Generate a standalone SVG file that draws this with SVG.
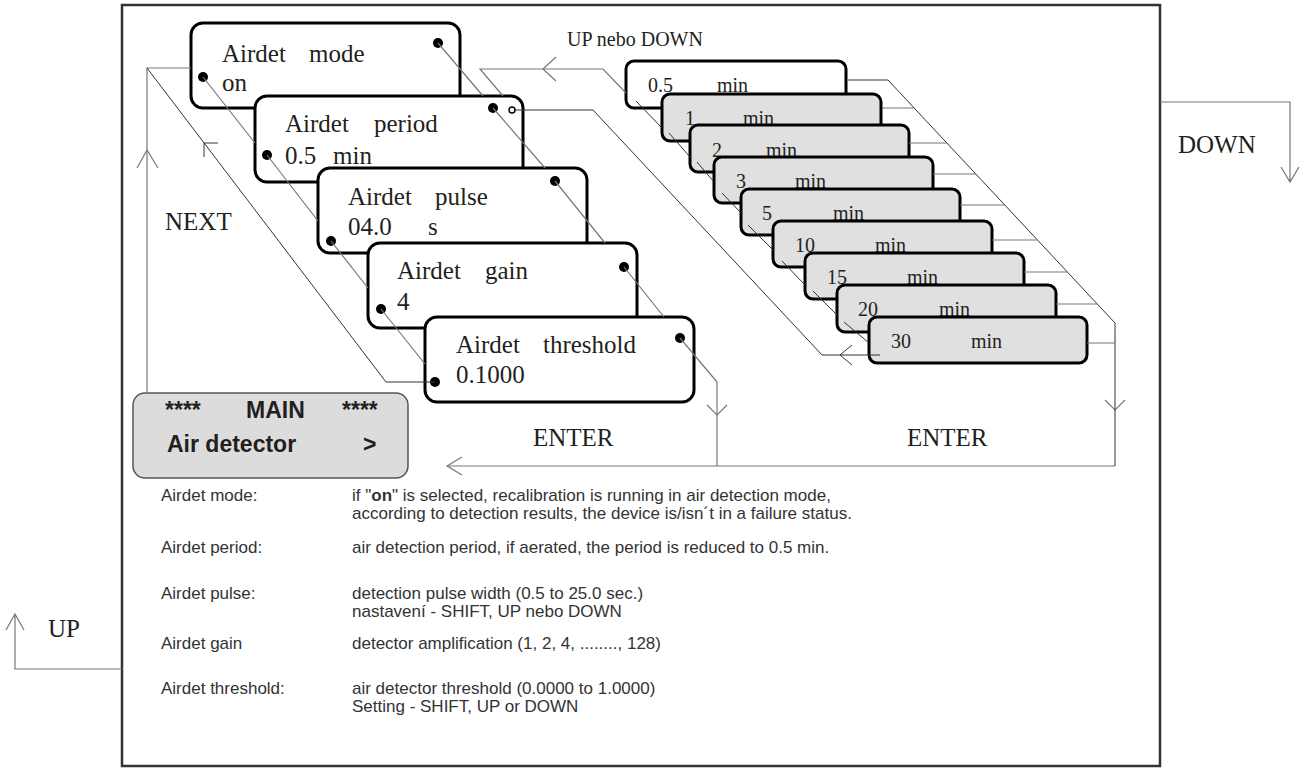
<svg xmlns="http://www.w3.org/2000/svg" width="1303" height="769" viewBox="0 0 1303 769">
<style>
.nd{fill:#fff;stroke:#000;stroke-width:3}
.st{fill:#e0e0e0;stroke:#000;stroke-width:3}
.st0{fill:#fff;stroke:#000;stroke-width:3}
.mb{fill:#dcdcdc;stroke:#555;stroke-width:1.5}
.tn{font-family:"Liberation Serif","Times New Roman",serif;font-size:25px;fill:#231f20}
.ts{font-family:"Liberation Serif","Times New Roman",serif;font-size:20px;fill:#231f20}
.tm{font-family:"Liberation Sans",Arial,sans-serif;font-size:23px;font-weight:bold;fill:#231f20}
.tb{font-family:"Liberation Sans",Arial,sans-serif;font-size:17px;fill:#333}
.dot{fill:#000}
.oc{fill:#fff;stroke:#000;stroke-width:1.5}
.ln{fill:none;stroke:#333;stroke-width:1}
.lg{fill:none;stroke:#777;stroke-width:1.2}
</style>
<rect x="122" y="5" width="1038" height="761" fill="none" stroke="#333" stroke-width="2.5"/>

<g id="stack">
<g id="s05"><rect class="st0" x="626" y="61" width="220" height="47" rx="8"/><text class="ts" x="648" y="92">0.5</text><text class="ts" x="717" y="92">min</text></g>
<g id="s1"><rect class="st" x="662" y="94" width="219" height="47" rx="8"/><text class="ts" x="685" y="125">1</text><text class="ts" x="743" y="125">min</text></g>
<g id="s2"><rect class="st" x="690" y="125" width="219" height="47" rx="8"/><text class="ts" x="712" y="157">2</text><text class="ts" x="766" y="157">min</text></g>
<g id="s3"><rect class="st" x="714" y="157" width="219" height="46" rx="8"/><text class="ts" x="736" y="188">3</text><text class="ts" x="795" y="188">min</text></g>
<g id="s5"><rect class="st" x="741" y="189" width="219" height="46" rx="8"/><text class="ts" x="762" y="220">5</text><text class="ts" x="833" y="220">min</text></g>
<g id="s10"><rect class="st" x="773" y="221" width="219" height="46" rx="8"/><text class="ts" x="795" y="252">10</text><text class="ts" x="875" y="252">min</text></g>
<g id="s15"><rect class="st" x="805" y="253" width="219" height="46" rx="8"/><text class="ts" x="827" y="284">15</text><text class="ts" x="907" y="284">min</text></g>
<g id="s20"><rect class="st" x="837" y="285" width="219" height="47" rx="8"/><text class="ts" x="858" y="316">20</text><text class="ts" x="939" y="316">min</text></g>
<g id="s30"><rect class="st" x="869" y="317" width="218" height="46" rx="8"/><text class="ts" x="891" y="348">30</text><text class="ts" x="971" y="348">min</text></g>
</g>

<g id="n1"><rect class="nd" x="191" y="23" width="269" height="85" rx="12"/><text class="tn" x="222" y="62">Airdet</text><text class="tn" x="309" y="62">mode</text><text class="tn" x="222" y="91">on</text><circle class="dot" cx="203" cy="77" r="5"/><circle class="dot" cx="438" cy="43" r="5"/></g>
<g id="n2"><rect class="nd" x="255" y="96" width="268" height="86" rx="12"/><text class="tn" x="285" y="132">Airdet</text><text class="tn" x="374" y="132">period</text><text class="tn" x="285" y="164">0.5</text><text class="tn" x="333" y="164">min</text><circle class="dot" cx="267" cy="155" r="5"/><circle class="dot" cx="493" cy="108" r="5"/><circle class="oc" cx="512" cy="110" r="3"/></g>
<g id="n3"><rect class="nd" x="318" y="168" width="269" height="85" rx="12"/><text class="tn" x="348" y="205">Airdet</text><text class="tn" x="435" y="205">pulse</text><text class="tn" x="348" y="235">04.0</text><text class="tn" x="428" y="235">s</text><circle class="dot" cx="331" cy="241" r="5"/><circle class="dot" cx="555" cy="181" r="5"/></g>
<g id="n4"><rect class="nd" x="368" y="243" width="269" height="85" rx="12"/><text class="tn" x="397" y="279">Airdet</text><text class="tn" x="485" y="279">gain</text><text class="tn" x="397" y="310">4</text><circle class="dot" cx="381" cy="309" r="5"/><circle class="dot" cx="624" cy="267" r="5"/></g>
<g id="n5"><rect class="nd" x="425" y="317" width="269" height="85" rx="12"/><text class="tn" x="456" y="353">Airdet</text><text class="tn" x="543" y="353">threshold</text><text class="tn" x="456" y="383">0.1000</text><circle class="dot" cx="435" cy="382" r="5"/><circle class="dot" cx="680" cy="338" r="5"/></g>

<g id="main"><rect class="mb" x="133" y="393" width="275" height="85" rx="12"/><text class="tm" x="165" y="418">****</text><text class="tm" x="246" y="418">MAIN</text><text class="tm" x="342" y="418">****</text><text class="tm" x="167" y="452">Air detector</text><text class="tm" x="363" y="452">&gt;</text></g>

<g id="connectors">
<path class="lg" d="M147,393 V68 H191"/>
<path class="lg" d="M137,168 L147,150 L158,168"/>
<path class="ln" d="M435,382 H386 L147,68"/>
<path class="ln" d="M218,143 H204 V157"/>
<path class="lg" d="M203,77 L255,143 M267,155 L318,221 M331,241 L368,288 M381,309 L425,364"/>
<path class="lg" d="M438,43 L483,96 M493,108 L545,168 M555,181 L605,243 M624,267 L664,317 M680,338 L717,382"/>
<path class="lg" d="M717,382 V466 M1115,466 H447"/>
<path class="lg" d="M707,405 L717,415 L727,405 M1105,400 L1115,410 L1125,400 M462,457 L447,466 L462,475"/>
<path class="lg" d="M503,96 L480,69 H603 L626,93"/>
<path class="lg" d="M556,57 L543,69 L556,81"/>
<path class="ln" d="M515,110 H593 L822,355 H880"/>
<path class="ln" d="M852,345 L840,355 L852,365"/>
<path class="ln" d="M636,101 L662,128 M669,133 L690,157 M697,162 L714,182 M722,193 L741,213 M748,225 L773,250 M782,261 L805,285 M813,291 L837,315 M844,322 L869,343"/>
<path class="ln" d="M846,80 H888 L1115,323 V466"/>
<path class="lg" d="M882,108 H914 M909,143 H947 M933,174 H976 M960,205 H1005 M992,240 H1037 M1024,272 H1067 M1056,304 H1097 M1087,343 H1115"/>
<path class="lg" d="M1160,102 H1290 V182 M1281,167 L1290,182 L1299,167"/>
<path class="lg" d="M122,669 H15 V614 M6,630 L15,614 L24,630"/>
</g>

<g id="labels">
<text class="ts" x="567" y="46">UP nebo DOWN</text>
<text class="tn" x="165" y="230">NEXT</text>
<text class="tn" x="533" y="446">ENTER</text>
<text class="tn" x="907" y="446">ENTER</text>
<text class="tn" x="1178" y="153">DOWN</text>
<text class="tn" x="48" y="637">UP</text>
</g>

<g id="notes" class="tb">
<text x="161" y="501">Airdet mode:</text>
<text x="352" y="501">if "<tspan font-weight="bold">on</tspan>" is selected, recalibration is running in air detection mode,</text>
<text x="352" y="519">according to detection results, the device is/isn´t in a failure status.</text>
<text x="161" y="553">Airdet period:</text>
<text x="352" y="553">air detection period, if aerated, the period is reduced to 0.5 min.</text>
<text x="161" y="599">Airdet pulse:</text>
<text x="352" y="599">detection pulse width (0.5 to 25.0 sec.)</text>
<text x="352" y="617">nastavení - SHIFT, UP nebo DOWN</text>
<text x="161" y="649">Airdet gain</text>
<text x="352" y="649">detector amplification (1, 2, 4, ........, 128)</text>
<text x="161" y="694">Airdet threshold:</text>
<text x="352" y="694">air detector threshold (0.0000 to 1.0000)</text>
<text x="352" y="712">Setting - SHIFT, UP or DOWN</text>
</g>
</svg>
